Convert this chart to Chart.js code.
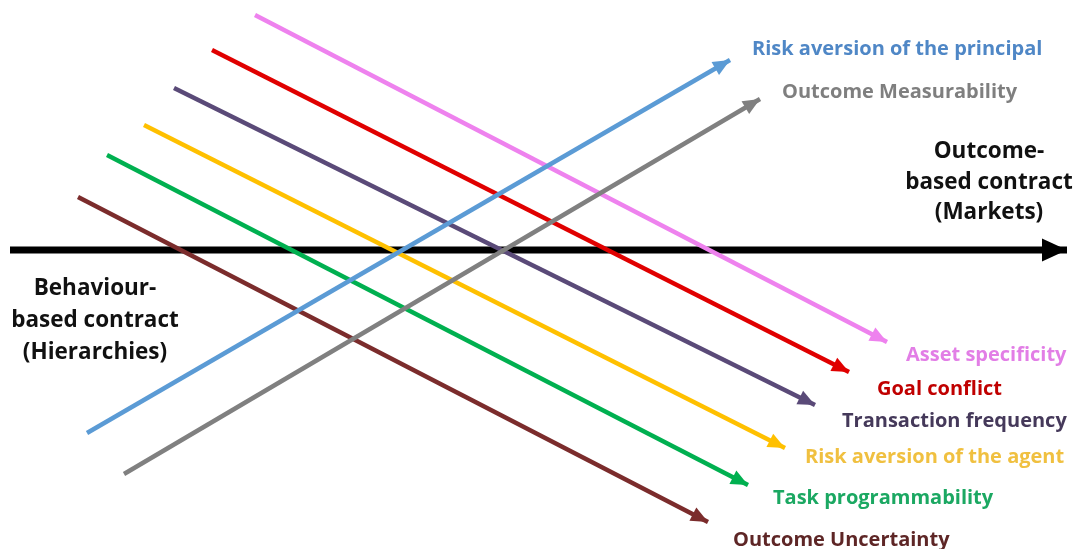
<!DOCTYPE html>
<html>
<head>
<meta charset="utf-8">
<script src="https://cdn.jsdelivr.net/npm/chart.js@4"></script>
<style>
  html, body { margin: 0; padding: 0; background: #ffffff; }
  #wrap { width: 1081px; height: 549px; position: relative; }
</style>
</head>
<body>
<div id="wrap"><canvas id="chart"></canvas></div>
<script>
// ---- data (diagram units = picture pixels) ----
const factorNames = [
  'Risk aversion of the principal', 'Outcome Measurability',
  'Asset specificity', 'Goal conflict', 'Transaction frequency',
  'Risk aversion of the agent', 'Task programmability', 'Outcome Uncertainty'
];
const lineColors = ['#5b9bd5', '#808080', '#ee82ee', '#e00000', '#5a4a78', '#ffc000', '#00b050', '#7b2c2c'];
const textColors = ['#4f87c6', '#7f7f7f', '#e27ee6', '#c00000', '#45395a', '#f0c040', '#1ba862', '#5e2626'];
const startX = [87, 124, 255, 212, 174, 144, 107, 78];
const startY = [433, 474, 15, 50, 88, 125, 155, 197];
const endX = [730, 760, 887, 849, 815, 785, 748, 708];
const endY = [60, 99, 342, 372, 405, 448, 485, 522];
const labelX = [752, 782, 906, 877, 842, 805, 773, 733];
const labelY = [49, 92, 355, 389, 421, 457, 498, 540];

const axisStart = [10, 250];
const axisEnd = [1067, 250];
const leftTitle = ['Behaviour-', 'based contract', '(Hierarchies)'];
const rightTitle = ['Outcome-', 'based contract', '(Markets)'];
const leftTitleX = 95;
const leftTitleY = [289, 321, 353];
const rightTitleX = 989;
const rightTitleY = [152, 183, 213];

const FONT = "'Open Sans', Lato, sans-serif";

const datasets = factorNames.map((name, i) => ({
  label: name,
  data: [{ x: startX[i], y: startY[i] }, { x: endX[i], y: endY[i] }],
  borderColor: lineColors[i],
  backgroundColor: lineColors[i],
  borderWidth: 4.5,
  showLine: true,
  pointRadius: 0,
  order: i + 1,
  headLen: 17,
  headHalf: 7.5
}));

datasets.push({
  label: 'axis',
  data: [{ x: axisStart[0], y: axisStart[1] }, { x: axisEnd[0], y: axisEnd[1] }],
  borderColor: '#000000',
  backgroundColor: '#000000',
  borderWidth: 7,
  showLine: true,
  pointRadius: 0,
  order: 100,
  headLen: 25,
  headHalf: 11.5
});

// arrow heads on the last point of every line
const arrowHeads = {
  id: 'arrowHeads',
  afterDatasetDraw(chart, args) {
    const ds = chart.data.datasets[args.index];
    const pts = chart.getDatasetMeta(args.index).data;
    const a = pts[pts.length - 2], b = pts[pts.length - 1];
    const ang = Math.atan2(b.y - a.y, b.x - a.x);
    const c = chart.ctx;
    c.save();
    c.translate(b.x, b.y);
    c.rotate(ang);
    c.fillStyle = ds.borderColor;
    c.beginPath();
    c.moveTo(0, 0);
    c.lineTo(-ds.headLen, -ds.headHalf);
    c.lineTo(-ds.headLen, ds.headHalf);
    c.closePath();
    c.fill();
    c.restore();
  }
};

// text labels
const diagramText = {
  id: 'diagramText',
  afterDraw(chart) {
    const { ctx: c, scales: { x, y } } = chart;
    c.save();
    c.textBaseline = 'middle';
    c.textAlign = 'left';
    c.font = `bold 20px ${FONT}`;
    factorNames.forEach((t, i) => {
      c.fillStyle = textColors[i];
      c.fillText(t, x.getPixelForValue(labelX[i]), y.getPixelForValue(labelY[i]));
    });
    c.textAlign = 'center';
    c.font = `bold 22.5px ${FONT}`;
    c.fillStyle = '#111111';
    leftTitle.forEach((t, i) => c.fillText(t, x.getPixelForValue(leftTitleX), y.getPixelForValue(leftTitleY[i])));
    rightTitle.forEach((t, i) => c.fillText(t, x.getPixelForValue(rightTitleX), y.getPixelForValue(rightTitleY[i])));
    c.restore();
  }
};

new Chart(document.getElementById('chart'), {
  type: 'scatter',
  data: { datasets },
  options: {
    responsive: true,
    maintainAspectRatio: false,
    animation: false,
    layout: { padding: 0 },
    plugins: { legend: { display: false }, tooltip: { enabled: false } },
    scales: {
      x: { type: 'linear', min: 0, max: 1081, display: false },
      y: { type: 'linear', min: 0, max: 549, reverse: true, display: false }
    }
  },
  plugins: [arrowHeads, diagramText]
});
</script>
</body>
</html>
